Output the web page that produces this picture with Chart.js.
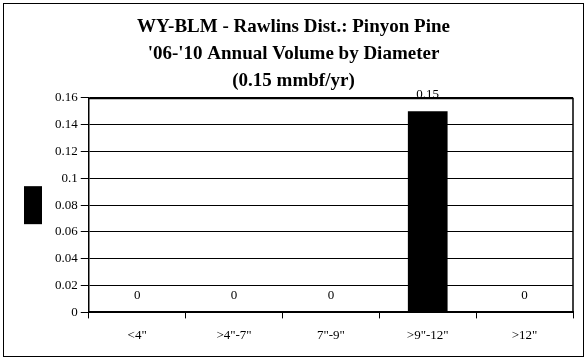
<!DOCTYPE html>
<html>
<head>
<meta charset="utf-8">
<script src="https://cdn.jsdelivr.net/npm/chart.js@4/dist/chart.umd.min.js"></script>
<style>
  html, body { margin: 0; padding: 0; background: #fff; }
  #wrap { width: 587px; height: 360px; position: relative; }
</style>
</head>
<body>
<div id="wrap"><canvas id="chart"></canvas></div>
<script>
const titleLines = ['WY-BLM - Rawlins Dist.: Pinyon Pine', "'06-'10 Annual Volume by Diameter", '(0.15 mmbf/yr)'];
const categories = ['<4"', '>4"-7"', '7"-9"', '>9"-12"', '>12"'];
const volume = [0, 0, 0, 0.15, 0];
const yMin = 0, yMax = 0.16, yStep = 0.02;

const serif = '"Liberation Serif", "Times New Roman", serif';

// white page, outer frame, plot-area box, legend key on the left
const framePlugin = {
    id: 'frame',
    beforeDraw(chart) {
        const ctx = chart.ctx;
        ctx.save();
        ctx.fillStyle = '#fff';
        ctx.fillRect(0, 0, chart.width, chart.height);
        ctx.strokeStyle = '#000';
        ctx.lineWidth = 1;
        ctx.strokeRect(3.5, 3.5, chart.width - 7, chart.height - 7);
        ctx.restore();
    },
    afterDraw(chart) {
        const a = chart.chartArea, ctx = chart.ctx;
        ctx.save();
        ctx.strokeStyle = '#000';
        ctx.lineWidth = 1.5;
        ctx.beginPath();
        ctx.moveTo(a.left, a.top + 0.5);
        ctx.lineTo(a.right, a.top + 0.5);
        ctx.lineTo(a.right, a.bottom);
        ctx.stroke();
        // legend key (squeezed legend, no text)
        const cy = (a.top + a.bottom) / 2;
        ctx.fillStyle = chart.data.datasets[0].backgroundColor;
        ctx.fillRect(24, cy - 19, 18, 38);
        ctx.restore();
    }
};

// value labels above each bar
const valueLabels = {
    id: 'valueLabels',
    afterDatasetsDraw(chart) {
        const ctx = chart.ctx;
        const meta = chart.getDatasetMeta(0);
        ctx.save();
        ctx.font = '13px ' + serif;
        ctx.fillStyle = '#000';
        ctx.textAlign = 'center';
        ctx.textBaseline = 'bottom';
        meta.data.forEach((bar, i) => {
            ctx.fillText(String(volume[i]), bar.x, bar.y - 10);
        });
        ctx.restore();
    }
};

new Chart(document.getElementById('chart'), {
    type: 'bar',
    data: {
        labels: categories,
        datasets: [{
            label: '',
            data: volume,
            backgroundColor: '#000',
            borderWidth: 0,
            barPercentage: 0.41,
            categoryPercentage: 1,
        }],
    },
    options: {
        responsive: true,
        maintainAspectRatio: false,
        animation: false,
        layout: { padding: { left: 14, right: 14, top: 8, bottom: 8 } },
        plugins: {
            legend: { display: false },
            tooltip: { enabled: false },
            title: {
                display: true,
                text: titleLines,
                color: '#000',
                font: { family: serif, size: 19, weight: 'bold', lineHeight: 1.42 },
                padding: { top: 6, bottom: 3 },
            },
        },
        scales: {
            x: {
                offset: true,
                grid: { display: true, drawOnChartArea: false, offset: true, tickLength: 6, color: '#000', lineWidth: 1 },
                border: { display: true, color: '#000', width: 2 },
                ticks: { color: '#000', font: { family: serif, size: 13 }, padding: 9, maxRotation: 0 },
            },
            y: {
                min: yMin,
                max: yMax,
                afterFit: scale => { scale.width += 38; },
                grid: { color: '#000', lineWidth: 1, tickLength: 8 },
                border: { display: true, color: '#000', width: 1.5 },
                ticks: {
                    stepSize: yStep,
                    color: '#000',
                    font: { family: serif, size: 13 },
                    padding: 3,
                    callback: v => String(+v.toFixed(2)),
                },
            },
        },
    },
    plugins: [framePlugin, valueLabels],
});
</script>
</body>
</html>
